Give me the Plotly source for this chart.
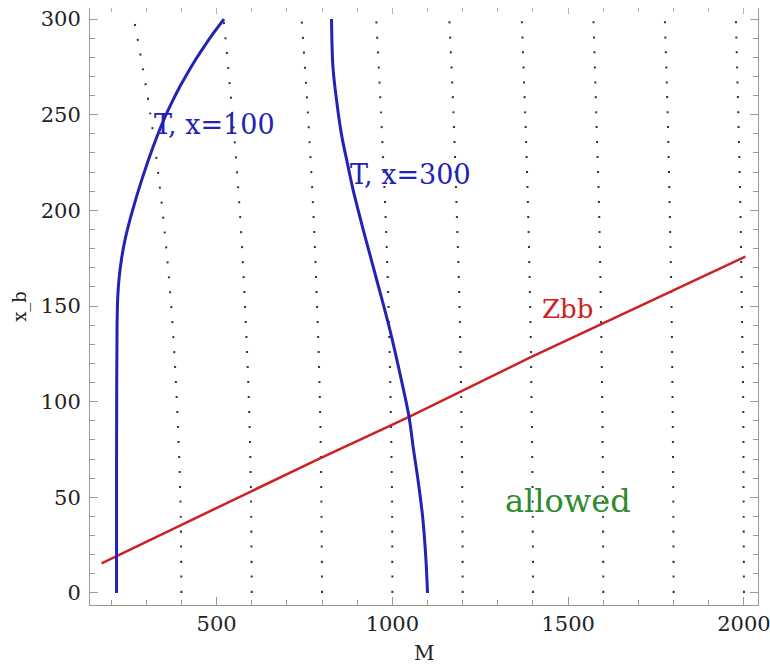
import plotly.graph_objects as go

# ---- data ----
# dotted contours: M values at the x_b levels below (one list per contour)
contour_xb = [0, 50, 100, 150, 200, 250, 300]
contour_M = {
    400:  [400, 397, 387, 371, 346, 312, 265],
    600:  [600, 598, 592, 581, 566, 545, 520],
    800:  [800, 798, 794, 786, 775, 760, 742],
    1000: [1000, 999, 995, 989, 980, 968, 954],
    1200: [1200, 1199, 1196, 1191, 1183, 1174, 1162],
    1400: [1400, 1399, 1396, 1392, 1386, 1378, 1368],
    1600: [1600, 1599, 1597, 1593, 1588, 1580, 1572],
    1800: [1800, 1799, 1797, 1794, 1789, 1783, 1775],
    2000: [2000, 1999, 1998, 1994, 1990, 1984, 1977],
}

t100_M  = [215.5, 215.5, 216, 217, 219, 223, 230, 240, 261, 289, 319, 349,
           377, 396.5, 418, 441, 466, 492.5, 521]
t100_xb = [0, 60, 110, 140, 155, 165, 175, 185, 200, 217, 233, 247,
           258, 265, 272, 279, 286, 293, 300]

t300_M  = [827, 831, 841, 855, 874, 888, 917, 955, 993, 1026, 1047.5, 1059, 1073, 1086, 1095, 1100]
t300_xb = [300, 275, 258, 240, 223, 211, 190, 164, 137.5, 111, 92, 76.5, 59, 40, 19, 0]

zbb_M  = [173, 400, 794, 1047.5, 1391, 2004]
zbb_xb = [15.5, 35.5, 70.4, 92, 123, 175.8]

x_ticks = [500, 1000, 1500, 2000]
y_ticks = [0, 50, 100, 150, 200, 250, 300]

BLUE = "#2222b4"
RED = "#cc2222"
GREEN = "#2e8b2e"
SERIF = "DejaVu Serif"

fig = go.Figure()

for lvl, ms in contour_M.items():
    fig.add_trace(go.Scatter(
        x=ms, y=contour_xb, mode="lines", line_shape="spline",
        line=dict(color="#333333", width=2, dash="2px,13px"),
        hoverinfo="skip", showlegend=False))

fig.add_trace(go.Scatter(x=zbb_M, y=zbb_xb, mode="lines",
                         line=dict(color=RED, width=2.5), showlegend=False))
fig.add_trace(go.Scatter(x=t100_M, y=t100_xb, mode="lines", line_shape="spline",
                         line=dict(color=BLUE, width=3), showlegend=False))
fig.add_trace(go.Scatter(x=t300_M, y=t300_xb, mode="lines", line_shape="spline",
                         line=dict(color=BLUE, width=3), showlegend=False))
# carrier trace for the top tick axis
fig.add_trace(go.Scatter(x=[1000], y=[150], xaxis="x2", mode="markers",
                         marker=dict(opacity=0), hoverinfo="skip", showlegend=False))

fig.add_annotation(x=494, y=245, text="T, x=100", showarrow=False,
                   font=dict(family=SERIF, size=27, color=BLUE))
fig.add_annotation(x=1052, y=218.5, text="T, x=300", showarrow=False,
                   font=dict(family=SERIF, size=27, color=BLUE))
fig.add_annotation(x=1497, y=148.5, text="Zbb", showarrow=False,
                   font=dict(family=SERIF, size=26, color=RED))
fig.add_annotation(x=1500, y=48, text="allowed", showarrow=False,
                   font=dict(family=SERIF, size=32, color=GREEN))
# x-axis title placed as paper annotation
fig.add_annotation(xref="paper", yref="paper", x=0.5, y=-0.081, yanchor="middle",
                   text="M", showarrow=False,
                   font=dict(family=SERIF, size=20, color="#222222"))

axis_common = dict(showgrid=False, zeroline=False, showline=True, automargin=False,
                   linecolor="#9a9a9a", linewidth=1, ticklabeloverflow="allow",
                   ticks="inside", ticklen=8, tickcolor="#9a9a9a", tickwidth=1,
                   tickfont=dict(family=SERIF, size=21, color="#222222"))

fig.update_layout(
    width=770, height=665,
    margin=dict(l=90, r=12, t=8, b=60),
    paper_bgcolor="white", plot_bgcolor="white",
    xaxis=dict(range=[140, 2040], tickvals=x_ticks, mirror=False,
               ticklabelstandoff=0,
               minor=dict(dtick=100, tick0=0, ticks="inside", ticklen=5,
                          tickcolor="#9a9a9a", showgrid=False),
               **axis_common),
    yaxis=dict(range=[-6.3, 305.8], tickvals=y_ticks, mirror="ticks",
               ticklabelstandoff=4,
               minor=dict(dtick=10, tick0=0, ticks="inside", ticklen=5,
                          tickcolor="#9a9a9a", showgrid=False),
               title=dict(text="x_b", font=dict(family=SERIF, size=18, color="#222222"),
                          standoff=9),
               **axis_common),
    xaxis2=dict(overlaying="x", side="top", matches="x", showline=False,
                automargin=False, anchor="y",
                showgrid=False, zeroline=False, showticklabels=False,
                tickvals=x_ticks, ticks="inside", ticklen=6, tickcolor="#b0b0b0",
                minor=dict(dtick=100, tick0=0, ticks="inside", ticklen=4,
                           tickcolor="#b0b0b0", showgrid=False)),
)

fig.write_html("out.html")
